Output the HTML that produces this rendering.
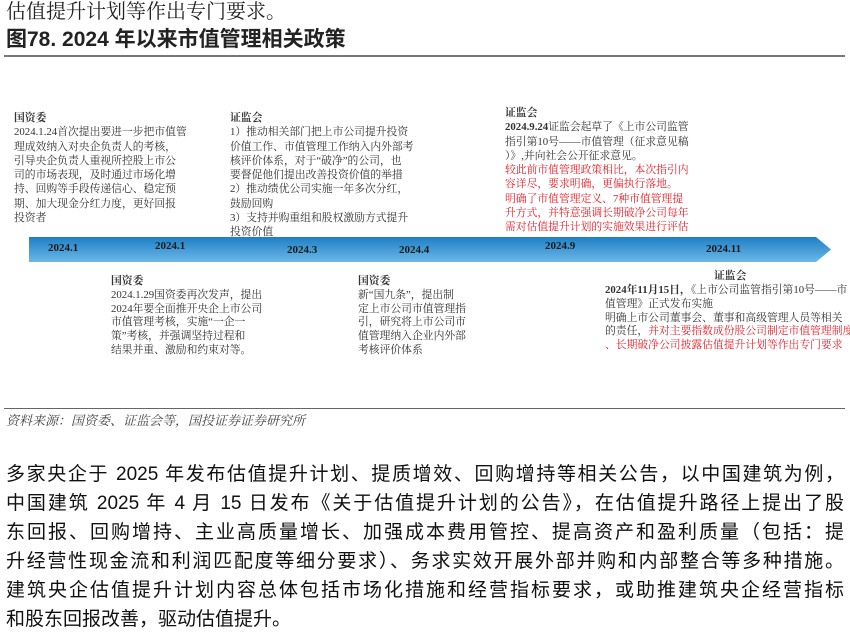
<!DOCTYPE html>
<html><head><meta charset="utf-8"><style>
body{margin:0;width:850px;height:626px;overflow:hidden;background:#fff;position:relative;font-family:"Liberation Serif","Noto Serif CJK SC",serif;color:#222}
.a{position:absolute;white-space:nowrap}
.s{font-size:10.8px;line-height:14.3px;color:#333}
.r{color:#e8202a}
.b{font-weight:bold}
.body{position:absolute;left:6px;width:838px;font-family:"Liberation Sans","Noto Sans CJK SC",sans-serif;font-size:19px;color:#111;text-align:justify;text-align-last:justify;white-space:nowrap;height:29px;line-height:29px}
.d{position:absolute;font-size:11px;font-weight:bold;color:#1a1a1a;top:242px}
</style></head><body>
<div class="a" style="left:6px;top:0;font-family:'Liberation Serif','Noto Serif CJK SC',serif;font-size:20px;line-height:24px;color:#222">估值提升计划等作出专门要求。</div>
<div class="a" style="left:6px;top:27px;font-family:'Liberation Sans','Noto Sans CJK SC',sans-serif;font-size:21px;font-weight:bold;line-height:26px;color:#222">图78. 2024 年以来市值管理相关政策</div>
<div class="a" style="left:4px;top:55px;width:841px;height:2px;background:#777"></div>

<div class="a s" style="left:14px;top:111px"><span class="b">国资委</span><br>2024.1.24首次提出要进一步把市值管<br>理成效纳入对央企负责人的考核，<br>引导央企负责人重视所控股上市公<br>司的市场表现，及时通过市场化增<br>持、回购等手段传递信心、稳定预<br>期、加大现金分红力度，更好回报<br>投资者</div>

<div class="a s" style="left:230px;top:111px"><span class="b">证监会</span><br>1）推动相关部门把上市公司提升投资<br>价值工作、市值管理工作纳入内外部考<br>核评价体系，对于“破净”的公司，也<br>要督促他们提出改善投资价值的举措<br>2）推动绩优公司实施一年多次分红，<br>鼓励回购<br>3）支持并购重组和股权激励方式提升<br>投资价值</div>

<div class="a s" style="left:505px;top:106px"><span class="b">证监会</span><br><span class="b">2024.9.24</span>证监会起草了《上市公司监管<br>指引第10号——市值管理（征求意见稿<br>）》,并向社会公开征求意见。<br><span class="r">较此前市值管理政策相比，本次指引内<br>容详尽，要求明确，更偏执行落地。<br>明确了市值管理定义、7种市值管理提<br>升方式，并特意强调长期破净公司每年<br>需对估值提升计划的实施效果进行评估</span></div>

<svg class="a" style="left:0;top:0" width="850" height="626"><defs><linearGradient id="g" x1="0" y1="0" x2="0" y2="1"><stop offset="0" stop-color="#1f7fc4"/><stop offset="1" stop-color="#6bb8e8"/></linearGradient></defs><polygon points="29,237 816,237 831,249.5 816,262 29,262" fill="url(#g)"/></svg>
<div class="d" style="left:48px">2024.1</div>
<div class="d" style="left:155px;top:240px">2024.1</div>
<div class="d" style="left:287px;top:244px">2024.3</div>
<div class="d" style="left:399px;top:244px">2024.4</div>
<div class="d" style="left:545px;top:240px">2024.9</div>
<div class="d" style="left:706px;top:243px">2024.11</div>

<div class="a s" style="left:111px;top:275px;line-height:13.8px"><span class="b">国资委</span><br>2024.1.29国资委再次发声，提出<br>2024年要全面推开央企上市公司<br>市值管理考核，实施“一企一<br>策”考核，并强调坚持过程和<br>结果并重、激励和约束对等。</div>

<div class="a s" style="left:358px;top:275px;line-height:13.8px"><span class="b">国资委</span><br>新“国九条”，提出制<br>定上市公司市值管理指<br>引，研究将上市公司市<br>值管理纳入企业内外部<br>考核评价体系</div>

<div class="a s" style="left:714px;top:270px;line-height:13.8px"><span class="b">证监会</span></div>
<div class="a s" style="left:605px;top:284px;line-height:13.8px"><span class="b">2024年11月15日，</span>《上市公司监管指引第10号——市<br>值管理》正式发布实施<br>明确上市公司董事会、董事和高级管理人员等相关<br>的责任，<span class="r">并对主要指数成份股公司制定市值管理制度<br>、长期破净公司披露估值提升计划等作出专门要求</span></div>

<div class="a" style="left:4px;top:408px;width:841px;height:1px;background:#666"></div>
<div class="a" style="left:6px;top:411px;font-size:13px;line-height:20px;font-style:italic;color:#444">资料来源：国资委、证监会等，国投证券证券研究所</div>

<div class="body" style="top:460px">多家央企于 2025 年发布估值提升计划、提质增效、回购增持等相关公告，以中国建筑为例，</div>
<div class="body" style="top:489px">中国建筑 2025 年 4 月 15 日发布《关于估值提升计划的公告》，在估值提升路径上提出了股</div>
<div class="body" style="top:518px">东回报、回购增持、主业高质量增长、加强成本费用管控、提高资产和盈利质量（包括：提</div>
<div class="body" style="top:547px">升经营性现金流和利润匹配度等细分要求）、务求实效开展外部并购和内部整合等多种措施。</div>
<div class="body" style="top:576px">建筑央企估值提升计划内容总体包括市场化措施和经营指标要求，或助推建筑央企经营指标</div>
<div class="body" style="top:605px;text-align-last:left">和股东回报改善，驱动估值提升。</div>
</body></html>
